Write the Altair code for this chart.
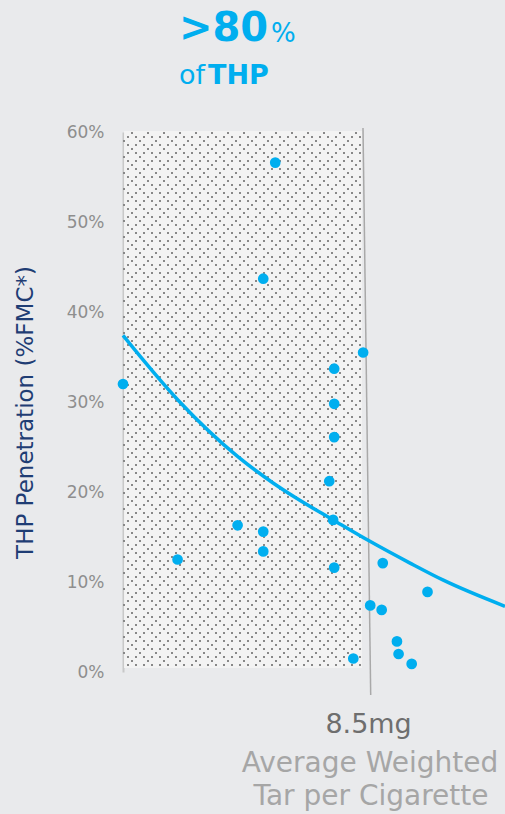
import altair as alt
import numpy as np
import pandas as pd

# ---- data ----
pt_tar = [4.00, 5.00, 6.79, 6.57, 6.10, 6.57, 6.57, 7.87, 7.87, 7.87, 7.78,
          7.85, 7.87, 8.40, 8.22, 8.53, 8.76, 8.74, 9.58, 9.02, 9.05, 9.29]
pt_thp = [32.0, 12.5, 56.6, 43.7, 16.3, 15.6, 13.4, 33.7, 29.8, 26.1, 21.2,
          16.9, 11.6, 35.5, 1.5, 7.4, 12.1, 6.9, 8.9, 3.4, 2.0, 0.9]

curve_tar = [4.0, 5.01, 6.11, 6.75, 7.18, 7.85, 8.50, 9.26, 9.87, 11.0]
curve_thp = [37.4, 30.2, 23.9, 21.0, 19.3, 16.9, 14.6, 12.1, 10.2, 7.3]

y_ticks = [0, 10, 20, 30, 40, 50, 60]
threshold = 8.5

# shaded band (mg / %) and the slightly tilted threshold line
band_x = [4.02, 8.38]
band_y = [0.44, 60.1]
line_x = [8.398, 8.539]
line_y = [60.44, -2.56]

BLUE = "#00aeef"
FONT = "DejaVu Sans"

xs = alt.Scale(domain=[4, 11], nice=False, zero=False)
ys = alt.Scale(domain=[0, 60], nice=False, zero=False)

yaxis = alt.Axis(values=y_ticks, labelExpr="datum.value + '%'", ticks=False, tickSize=0,
                 grid=False, domain=True, domainColor="#c8c8c8", domainWidth=2,
                 labelFont=FONT, labelFontSize=17, labelColor="#8e8e8e", labelPadding=19,
                 title="THP Penetration (%FMC*)", titleFont=FONT, titleFontSize=23,
                 titleFontWeight="normal", titleColor="#1f3d74", titleX=-91, titleY=280,
                 titleAngle=270, titleBaseline="alphabetic", titleAlign="center")


def X(f, **kw):
    return alt.X(f, type="quantitative", scale=xs, axis=None, **kw)


def Y(f, **kw):
    return alt.Y(f, type="quantitative", scale=ys, axis=yaxis,
                 title="THP Penetration (%FMC*)", **kw)


# shaded band
band = alt.Chart(pd.DataFrame({"x": [band_x[0]], "x2": [band_x[1]],
                               "y": [band_y[0]], "y2": [band_y[1]]})).mark_rect(
    color="#f3f3f3").encode(x=X("x"), x2="x2", y=Y("y"), y2="y2")

# dot texture (decoration): rows every 4 px, staggered
px_per_pct = 9.0
def rows(start_pct, step_px, end_pct):
    vals = []
    v = start_pct
    while v > end_pct:
        vals.append(v)
        v -= step_px / px_per_pct
    return vals

rowsA0 = rows(59.889, 16, 0.6)
rowsA1 = rows(59.889 - 8 / 9, 16, 0.6)
rowsB = rows(59.889 - 4 / 9, 8, 0.6)

def texture(vals, dash, offset):
    df = pd.DataFrame({"y": vals, "x": 4.0, "x2": band_x[1]})
    return alt.Chart(df).mark_rule(
        color="#888888", strokeWidth=2, strokeDash=dash, strokeDashOffset=offset,
        strokeCap="butt").encode(x=X("x"), x2="x2", y=Y("y"))

texA0 = texture(rowsA0, [2, 14], 8)
texA1 = texture(rowsA1, [2, 14], 0)
texB = texture(rowsB, [2, 6], 4)

# threshold line
vline = alt.Chart(pd.DataFrame({"x": [line_x[0]], "x2": [line_x[1]],
                                "y": [line_y[0]], "y2": [line_y[1]]})).mark_rule(
    color="#a9a9a9", strokeWidth=1.5).encode(x=X("x"), x2="x2", y=Y("y"), y2="y2")

# fitted curve
curve = alt.Chart(pd.DataFrame({"tar": curve_tar, "thp": curve_thp})).mark_line(
    color=BLUE, strokeWidth=3.5, interpolate="monotone").encode(
    x=X("tar"), y=Y("thp"))

points = alt.Chart(pd.DataFrame({"tar": pt_tar, "thp": pt_thp})).mark_circle(
    color=BLUE, size=115, opacity=1).encode(x=X("tar"), y=Y("thp"))


def label(text, x, y, size, color, weight="normal", align="left"):
    return alt.Chart(pd.DataFrame({"t": [text]})).mark_text(
        font=FONT, fontSize=size, color=color, fontWeight=weight, align=align,
        baseline="alphabetic").encode(x=x, y=alt.value(y), text="t:N")


t_big = label(">80", alt.value(56), -91, 40, BLUE, "bold")
t_pct = label("%", alt.value(148), -90, 26, BLUE)
t_of = label("of", alt.value(56), -48, 27, BLUE)
t_thp = label("THP", alt.value(85), -48, 27, BLUE, "bold")
t_mg = label(f"{threshold}mg", alt.X(datum=threshold, type="quantitative", scale=xs, axis=None),
             601, 27, "#6e6e6e", align="center")
t_l1 = label("Average Weighted", alt.value(247), 640, 28, "#a6a6a6", align="center")
t_l2 = label("Tar per Cigarette", alt.value(248), 673, 28, "#a6a6a6", align="center")

chart = alt.layer(band, texA0, texA1, texB, vline, curve, points,
                  t_big, t_pct, t_of, t_thp, t_mg, t_l1, t_l2).properties(
    width=382, height=540,
    autosize=alt.AutoSizeParams(type="none"),
    padding={"left": 123, "top": 132, "right": 0, "bottom": 142},
    background="#e9eaec",
).configure_view(stroke=None)

chart.save("out.html", embed_options={"renderer": "svg", "actions": False})
